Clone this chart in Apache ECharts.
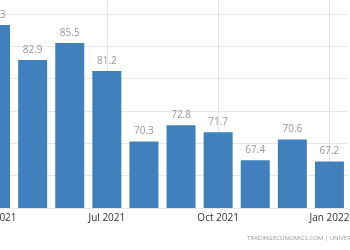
<!DOCTYPE html>
<html>
<head>
<meta charset="utf-8">
<script src="https://cdn.jsdelivr.net/npm/echarts@6/dist/echarts.min.js"></script>
<style>html,body{margin:0;padding:0;background:#fff}#c{width:350px;height:250px}</style>
</head>
<body>
<div id="c"></div>
<script>
const categories = ['Apr 2021','May 2021','Jun 2021','Jul 2021','Aug 2021','Sep 2021','Oct 2021','Nov 2021','Dec 2021','Jan 2022'];
const values = [88.3, 82.9, 85.5, 81.2, 70.3, 72.8, 71.7, 67.4, 70.6, 67.2];
const tickCategories = ['Apr 2021','Jul 2021','Oct 2021','Jan 2022'];
const yMin = 60, yMax = 90, yStep = 5;
const watermark = 'TRADINGECONOMICS.COM | UNIVERSITY OF MICHIGAN';

const chart = echarts.init(document.getElementById('c'), null, {renderer: 'canvas'});
chart.setOption({
  animation: false,
  textStyle: {fontFamily: 'Open Sans'},
  graphic: [{
    type: 'text', left: 247, top: 235,
    style: {text: watermark, fill: '#9a9a9a', font: '6px "Open Sans"'}
  }],
  grid: {left: -23, right: 2, top: 14, bottom: 42, containLabel: false, outerBoundsMode: 'none'},
  xAxis: {
    type: 'category',
    data: categories,
    axisLine: {show: false},
    axisTick: {show: false},
    axisLabel: {
      interval: 2, color: '#333', fontSize: 10, margin: 5, hideOverlap: false
    },
    splitLine: {show: false}
  },
  yAxis: {
    type: 'value', position: 'right', min: yMin, max: yMax, interval: yStep,
    axisLabel: {show: false},
    axisLine: {show: false}, axisTick: {show: false},
    splitLine: {lineStyle: {color: '#e8e8e8', width: 1}}
  },
  series: [{
    type: 'line',
    data: [],
    clip: false,
    silent: true,
    z: 1,
    markLine: {
      silent: true, symbol: 'none', z: 1, animation: false,
      label: {show: false},
      emphasis: {disabled: true},
      lineStyle: {color: '#e4e4e4', type: 'solid', width: 1},
      data: tickCategories.map(c => [{coord: [c, yMin]}, {coord: [c, yMin], y: 0}])
    }
  }, {
    type: 'bar',
    data: values,
    barWidth: 29,
    z: 3,
    itemStyle: {color: '#4080bd'},
    label: {show: true, position: 'top', distance: 5, color: '#999', fontSize: 10}
  }]
});
</script>
</body>
</html>
